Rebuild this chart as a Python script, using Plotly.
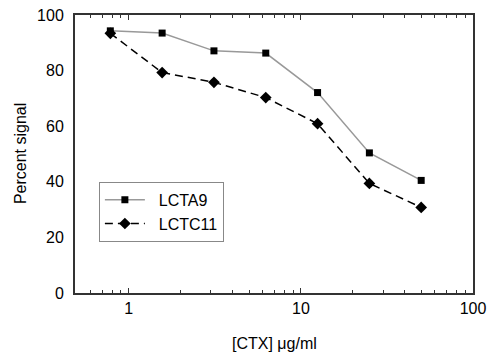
import plotly.graph_objects as go
import math

conc = [0.78125, 1.5625, 3.125, 6.25, 12.5, 25, 50]
lcta9 = [94.3, 93.5, 87.1, 86.3, 72.1, 50.4, 40.5]
lctc11 = [93.4, 79.3, 75.8, 70.3, 60.9, 39.4, 30.8]
x_major = [1, 10, 100]
x_minor = [0.6, 0.7, 0.8, 0.9, 2, 3, 4, 5, 6, 7, 8, 9, 20, 30, 40, 50, 60, 70, 80, 90]
y_ticks = [0, 20, 40, 60, 80, 100]

FONT = "Liberation Sans, Arial, sans-serif"
AX = "#333333"
PAD = "\u00a0\u00a0"

fig = go.Figure()
fig.add_trace(go.Scatter(
    x=conc, y=lcta9, name=PAD + "LCTA9", mode="lines+markers",
    line=dict(color="#999999", width=1.5),
    marker=dict(symbol="square", size=7, color="black"),
))
fig.add_trace(go.Scatter(
    x=conc, y=lctc11, name=PAD + "LCTC11", mode="lines+markers",
    line=dict(color="black", width=1.5, dash="8px,5px"),
    marker=dict(symbol="diamond", size=9, color="black"),
))

fig.update_layout(
    width=492, height=356,
    margin=dict(l=75, r=19, t=15, b=63, autoexpand=False),
    paper_bgcolor="white", plot_bgcolor="white",
    font=dict(family=FONT, size=16, color="black"),
    showlegend=True,
    legend=dict(
        x=0.06, y=0.40, xanchor="left", yanchor="top",
        bgcolor="white", bordercolor="#888888", borderwidth=1,
        font=dict(size=16), tracegroupgap=0, itemwidth=40,
    ),
    xaxis=dict(
        type="log", range=[math.log10(0.487), 2],
        tickvals=x_major, ticktext=["1", "10", "100"],
        ticks="inside", ticklen=5, tickwidth=1, tickcolor=AX,
        minor=dict(tickvals=x_minor, ticks="inside", ticklen=3, tickwidth=1, tickcolor=AX),
        showline=True, linecolor=AX, linewidth=2, mirror="ticks",
        showgrid=False, zeroline=False, automargin=False,
        tickfont=dict(size=16),
    ),
    yaxis=dict(
        range=[0, 100], tickvals=y_ticks,
        ticks="", ticklabelstandoff=6,
        showline=True, linecolor=AX, linewidth=2, mirror=True,
        showgrid=False, zeroline=False, automargin=False,
        tickfont=dict(size=16),
    ),
    annotations=[
        dict(text="[CTX] \u03bcg/ml", xref="paper", yref="paper",
             x=0.5, y=-0.18, xanchor="center", yanchor="middle",
             showarrow=False, font=dict(size=16)),
        dict(text="Percent signal", xref="paper", yref="paper",
             x=-0.138, y=0.5, xanchor="center", yanchor="middle", textangle=-90,
             showarrow=False, font=dict(size=16)),
    ],
)

fig.write_html("out.html", config={"displayModeBar": False},
               post_script="document.body.style.margin='0';document.body.style.padding='0';document.body.style.overflow='hidden';")
